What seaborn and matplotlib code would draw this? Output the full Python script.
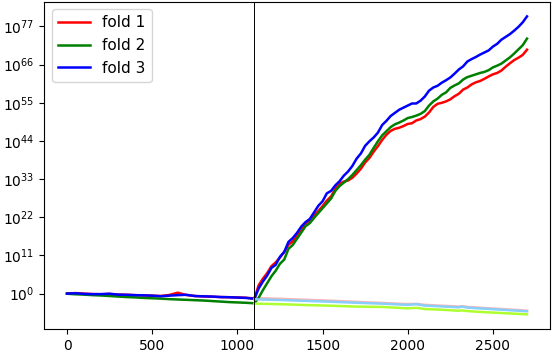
import numpy as np
import pandas as pd
import matplotlib
matplotlib.use("Agg")
import matplotlib.pyplot as plt
import matplotlib.ticker as mticker
import seaborn as sns

# ---- data: log10 of plotted value ----
pre_steps = list(range(0, 1101, 50))      # 0 .. 1100
post_steps = list(range(1125, 2701, 25))  # 1125 .. 2700

fold1_pre = [0.0, 0.15, 0.0, -0.15, -0.2, -0.1, -0.3, -0.35, -0.45, -0.55, -0.6, -0.7,
             -0.4, 0.25, -0.4, -0.7, -0.8, -0.9, -1.0, -1.05, -1.1, -1.2, -1.4]
fold1_post = [2.4, 4.3, 5.9, 7.9, 9.0, 10.4, 12.0, 14.1, 15.0, 16.6, 18.4, 20.2,
              21.0, 22.6, 23.8, 25.2, 26.8, 28.0, 30.2, 31.7, 32.3, 32.6, 33.4, 34.6,
              36.0, 37.8, 39.1, 40.9, 42.5, 44.3, 45.8, 46.9, 47.5, 47.8, 48.3, 48.9,
              49.1, 49.9, 50.3, 51.0, 52.2, 53.8, 54.7, 55.0, 55.4, 56.0, 56.9, 57.6,
              58.8, 59.4, 60.3, 60.9, 61.3, 61.9, 62.6, 63.2, 63.6, 64.3, 65.4, 66.4,
              67.3, 68.0, 68.8, 70.3]

fold2_pre = [-0.05, -0.2, -0.3, -0.45, -0.55, -0.7, -0.85, -1.0, -1.1, -1.25, -1.35, -1.45,
             -1.6, -1.7, -1.8, -1.9, -2.0, -2.15, -2.3, -2.45, -2.55, -2.65, -2.8]
fold2_post = [-1.2, 1.0, 3.0, 5.0, 6.6, 8.6, 9.8, 12.9, 14.0, 15.8, 17.6, 19.4,
              20.3, 21.8, 23.2, 24.6, 26.0, 27.4, 29.6, 31.0, 32.0, 33.0, 34.2, 35.6,
              37.0, 38.6, 40.0, 42.0, 43.9, 45.6, 46.8, 48.0, 48.8, 49.3, 49.9, 50.6,
              50.9, 51.3, 51.8, 52.6, 54.2, 55.4, 56.2, 57.3, 58.0, 59.3, 60.0, 60.6,
              61.7, 62.4, 62.8, 63.2, 63.6, 63.9, 64.4, 65.2, 65.7, 66.3, 67.2, 68.1,
              69.2, 70.4, 71.6, 73.5]

fold3_pre = [0.0, 0.1, -0.1, -0.15, -0.15, -0.05, -0.3, -0.35, -0.45, -0.5, -0.6, -0.75,
             -0.6, -0.45, -0.35, -0.7, -0.8, -0.85, -1.0, -1.05, -1.15, -1.25, -1.5]
fold3_post = [1.5, 3.5, 5.2, 7.4, 8.3, 10.6, 12.0, 14.9, 16.0, 17.5, 19.3, 20.6,
              21.5, 23.4, 25.3, 26.6, 28.9, 29.6, 31.2, 32.4, 34.0, 35.2, 36.8, 38.9,
              40.4, 42.6, 43.9, 45.0, 46.4, 48.6, 49.8, 51.2, 52.1, 53.0, 53.6, 54.2,
              54.8, 54.8, 55.6, 56.8, 58.5, 59.4, 59.9, 60.8, 61.5, 62.3, 63.4, 64.6,
              65.5, 66.9, 67.6, 68.2, 68.9, 69.5, 70.1, 71.2, 72.0, 73.2, 74.0, 74.8,
              75.8, 76.9, 78.2, 79.9]

val_steps = [1100, 1250, 1400, 1550, 1700, 1850, 2000, 2050, 2100, 2200, 2300, 2320, 2350, 2450, 2550, 2650, 2700]
val1 = [-1.3, -1.5, -1.8, -2.05, -2.4, -2.7, -3.05, -2.95, -3.25, -3.5, -3.75, -3.65, -3.85, -4.15, -4.45, -4.75, -4.95]
val2 = [-2.9, -3.05, -3.3, -3.5, -3.75, -3.85, -4.25, -4.1, -4.45, -4.65, -4.95, -4.85, -5.05, -5.35, -5.6, -5.85, -6.0]
val3 = [-1.65, -1.85, -2.1, -2.35, -2.65, -2.9, -3.25, -3.05, -3.45, -3.7, -3.95, -3.75, -4.05, -4.35, -4.65, -4.95, -5.1]

labels = ["fold 1", "fold 2", "fold 3"]
main_colors = ["red", "green", "blue"]
val_colors = ["#ffb3b3", "greenyellow", "lightskyblue"]

fig = plt.figure(figsize=(5.52, 3.54), dpi=100)
ax = fig.add_axes([44 / 552, 1 - 329.3 / 354, (550 - 44) / 552, (329.3 - 1.5) / 354])

steps = pre_steps + post_steps
mains = [fold1_pre + fold1_post, fold2_pre + fold2_post, fold3_pre + fold3_post]
vals = [val1, val2, val3]
for my, vy, lab, mc, vc in zip(mains, vals, labels, main_colors, val_colors):
    df = pd.DataFrame({"step": steps, "value": 10.0 ** np.array(my)})
    sns.lineplot(data=df, x="step", y="value", color=mc, label=lab, linewidth=1.8, ax=ax)
    dv = pd.DataFrame({"step": val_steps, "value": 10.0 ** np.array(vy)})
    sns.lineplot(data=dv, x="step", y="value", color=vc, linewidth=1.8, ax=ax, legend=False)

ax.axvline(1100, color="black", linewidth=0.7)
ax.set_yscale("log")
ax.set_yticks([10.0 ** k for k in range(0, 78, 11)])
ax.yaxis.set_minor_locator(mticker.NullLocator())
ax.set_xticks([0, 500, 1000, 1500, 2000, 2500])
ax.set_xlabel("")
ax.set_ylabel("")
ax.legend(loc="upper left", fontsize=11, handlelength=2.1)

fig.savefig("out.png", dpi=100)
